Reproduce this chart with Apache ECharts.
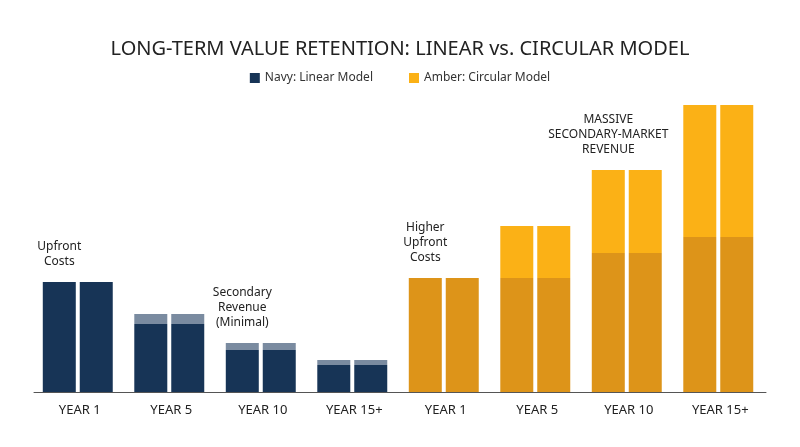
<!DOCTYPE html>
<html>
<head>
<meta charset="utf-8">
<script src="https://cdn.jsdelivr.net/npm/echarts@6/dist/echarts.min.js"></script>
<style>html,body{margin:0;background:#fff}#chart{width:800px;height:447px}</style>
</head>
<body>
<div id="chart"></div>
<script>
"use strict";
const categories = ["YEAR 1", "YEAR 5", "YEAR 10", "YEAR 15+", "YEAR 1", "YEAR 5", "YEAR 10", "YEAR 15+"];
// base value and added value per group (navy groups first, then amber)
const baseValues = [110, 68, 42, 27, 114, 114, 139, 155];
const topValues = [0, 10, 7, 5, 0, 52, 83, 132];
const notes = [
  { idx: 0, text: "Upfront\nCosts" },
  { idx: 2, text: "Secondary\nRevenue\n(Minimal)" },
  { idx: 4, text: "Higher\nUpfront\nCosts" },
  { idx: 6, text: "MASSIVE\nSECONDARY-MARKET\nREVENUE" },
];

const NAVY = "#173456", NAVY_TOP = "#7a8ba0";
const AMBER = "#dd9419", AMBER_TOP = "#fbb116";

const chart = echarts.init(document.getElementById("chart"));

const baseData = baseValues.map((v, i) => ({ value: v, itemStyle: { color: i < 4 ? NAVY : AMBER } }));
const topData = topValues.map((v, i) => ({ value: v, itemStyle: { color: i < 4 ? NAVY_TOP : AMBER_TOP } }));

const markData = notes.map((n) => ({
  coord: [n.idx, baseValues[n.idx] + topValues[n.idx] + 8],
  label: { formatter: n.text },
}));

const barCommon = { type: "bar", barWidth: 33, barGap: "12%", silent: true };

chart.setOption({
  backgroundColor: "#fff",
  animation: false,
  title: {
    text: "LONG-TERM VALUE RETENTION: LINEAR vs. CIRCULAR MODEL",
    left: "center",
    top: 34,
    textStyle: { fontFamily: "Noto Sans", fontWeight: "normal", fontSize: 20, color: "#222" },
  },
  legend: {
    top: 67,
    left: "center",
    itemWidth: 10,
    itemHeight: 10,
    itemGap: 36,
    textStyle: { fontFamily: "Noto Sans", fontSize: 12, color: "#333" },
    data: [
      { name: "Navy: Linear Model", icon: "rect", itemStyle: { color: NAVY } },
      { name: "Amber: Circular Model", icon: "rect", itemStyle: { color: AMBER_TOP } },
    ],
  },
  grid: { left: 34, right: 34, top: 105, bottom: 55 },
  xAxis: {
    type: "category",
    data: categories,
    axisTick: { show: false },
    axisLine: { lineStyle: { color: "#555", width: 1 } },
    axisLabel: { fontFamily: "Noto Sans", fontSize: 13, color: "#222", margin: 12 },
  },
  yAxis: { type: "value", min: 0, max: 287, show: false, splitLine: { show: false } },
  series: [
    { ...barCommon, name: "b1", stack: "a", data: baseData },
    {
      ...barCommon, name: "t1", stack: "a", data: topData,
      markPoint: {
        symbolSize: 0,
        data: markData,
        label: {
          show: true, position: "top", fontFamily: "Noto Sans", fontSize: 12,
          lineHeight: 15, color: "#222", align: "center",
        },
      },
    },
    { ...barCommon, name: "b2", stack: "b", data: baseData },
    { ...barCommon, name: "t2", stack: "b", data: topData },
    { type: "bar", name: "Navy: Linear Model", data: [] },
    { type: "bar", name: "Amber: Circular Model", data: [] },
  ],
});
</script>
</body>
</html>
